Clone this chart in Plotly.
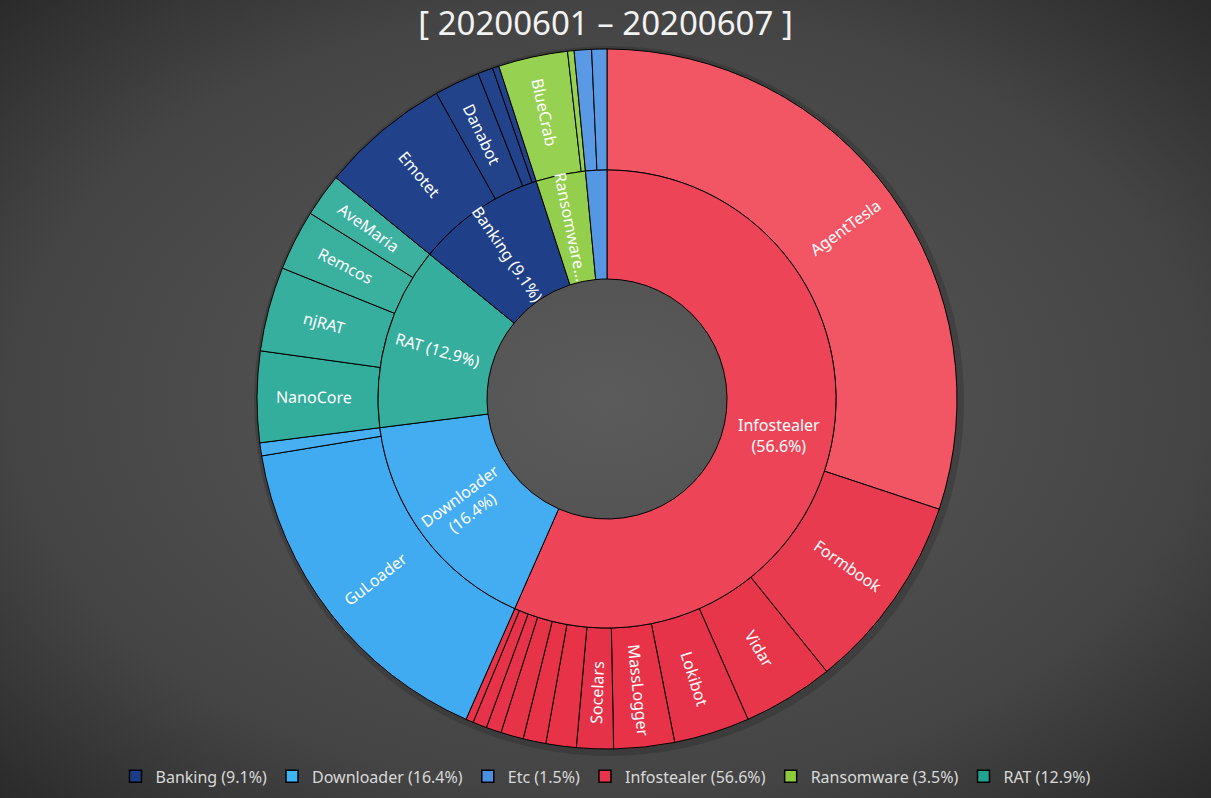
import base64
import math
import plotly.graph_objects as go

TITLE = "[ 20200601 – 20200607 ]"

# inner ring: malware categories (share in %)
categories = ["Infostealer", "Downloader", "RAT", "Banking", "Ransomware", "Etc"]
category_share = [56.6, 16.4, 12.9, 9.1, 3.5, 1.5]
category_text = ["Infostealer<br>(56.6%)", "Downloader<br>(16.4%)", "RAT (12.9%)",
                 "Banking (9.1%)", "Ransomware...", ""]

# outer ring: families, in the same clockwise order ("" = too small to be labelled)
family_names = [
    "AgentTesla", "Formbook", "Vidar", "Lokibot", "MassLogger", "Socelars", "", "", "", "", "", "",
    "GuLoader", "",
    "NanoCore", "njRAT", "Remcos", "AveMaria",
    "Emotet", "Danabot", "", "",
    "BlueCrab", "",
    "", "",
]
family_category = (["Infostealer"] * 12 + ["Downloader"] * 2 + ["RAT"] * 4
                   + ["Banking"] * 4 + ["Ransomware"] * 2 + ["Etc"] * 2)
family_share = [
    30.1, 9.1, 4.2, 3.5, 2.8, 1.7, 1.4, 1.05, 1.05, 0.7, 0.65, 0.35,
    15.8, 0.6,
    4.2, 3.9, 2.8, 2.0,
    6.0, 2.1, 0.7, 0.3,
    3.2, 0.3,
    0.8, 0.7,
]

# (top, bottom) shades - the original has a soft vertical gradient
shades = {
    "Infostealer": ("#f6636f", "#e52d44"),
    "Downloader": ("#5cbcf8", "#37a5ee"),
    "RAT": ("#47b6a5", "#1ea493"),
    "Banking": ("#24458c", "#143480"),
    "Ransomware": ("#98d253", "#84c33a"),
    "Etc": ("#5c9ce6", "#4488dd"),
}
legend_colors = {
    "Banking": "#1b3c87", "Downloader": "#3fb3f6", "Etc": "#4b8fe0",
    "Infostealer": "#e8334a", "Ransomware": "#8ccc3c", "RAT": "#21a393",
}


def mix(c1, c2, t):
    a = [int(c1[i:i + 2], 16) for i in (1, 3, 5)]
    b = [int(c2[i:i + 2], 16) for i in (1, 3, 5)]
    return "#%02x%02x%02x" % tuple(round(x + (y - x) * t) for x, y in zip(a, b))


def mid_angles(shares):
    out, acc = [], 0.0
    total = sum(shares)
    for s in shares:
        out.append((acc + s / 2) / total * 360)
        acc += s
    return out


def ring_colors(cats, shares, rmid):
    out = []
    for c, a in zip(cats, mid_angles(shares)):
        ypos = rmid * math.cos(math.radians(a))  # -1 bottom .. 1 top
        top, bottom = shades[c]
        out.append(mix(bottom, top, (ypos + 1) / 2))
    return out


outer_labels = []
counter = {}
for n, c in zip(family_names, family_category):
    if n:
        outer_labels.append(n)
    else:
        counter[c] = counter.get(c, 0) + 1
        outer_labels.append(f"{c} #{counter[c]}")

# geometry in px (margins are zero, axes are 1 unit = 1 px, origin = pie centre)
W, H = 1211, 798
CX, CY = 607, 399
R_OUT, R_MID, R_IN = 350, 229, 120

fig = go.Figure()

# soft shadow under the rings
fig.add_trace(go.Pie(
    labels=["shadow"], values=[1], sort=False,
    marker=dict(colors=["rgba(0,0,0,0.15)"], line=dict(width=0)),
    hole=(R_MID + 6) / (R_OUT + 5), textinfo="none", hoverinfo="skip",
    domain=dict(x=[0.0058, 1], y=[0.0526, 0.9424]),
    showlegend=False,
))

fig.add_trace(go.Pie(
    labels=outer_labels, values=family_share,
    sort=False, direction="clockwise", rotation=0,
    hole=R_MID / R_OUT,
    marker=dict(colors=ring_colors(family_category, family_share, (R_MID + R_OUT) / 2 / R_OUT),
                line=dict(color="#000000", width=1)),
    textinfo="none",
    hovertemplate="%{label}: %{value}%<extra></extra>",
    domain=dict(x=[0.0025, 1], y=[0.5 - R_OUT / H, 0.5 + R_OUT / H]),
    showlegend=False,
))

fig.add_trace(go.Pie(
    labels=categories, values=category_share,
    sort=False, direction="clockwise", rotation=0,
    hole=R_IN / R_MID,
    marker=dict(colors=ring_colors(categories, category_share, (R_IN + R_MID) / 2 / R_OUT),
                line=dict(color="#000000", width=1)),
    textinfo="none",
    hovertemplate="%{label}: %{value}%<extra></extra>",
    domain=dict(x=[0.0025, 1], y=[0.5 - R_MID / H, 0.5 + R_MID / H]),
    showlegend=False,
))


# slice labels: at mid angle, turned along the radius (Excel style)
def radial_labels(texts, shares, radius):
    anns = []
    for t, a, s in zip(texts, mid_angles(shares), shares):
        if not t:
            continue
        rad = math.radians(a)
        if s > 50:
            angle = 0
        elif a < 180:
            angle = a - 90
        else:
            angle = a - 270
        anns.append(dict(
            x=radius * math.sin(rad), y=radius * math.cos(rad), xref="x", yref="y",
            text=t, textangle=angle, showarrow=False,
            font=dict(family="Noto Sans", size=16, color="#ffffff"),
        ))
    return anns


annotations = radial_labels(family_names, family_share, 293) + \
    radial_labels(category_text, category_share, 176)

# legend entries (alphabetical like the original)
for c in sorted(categories, key=str.lower):
    s = category_share[categories.index(c)]
    fig.add_trace(go.Scatter(
        x=[None], y=[None], mode="markers", name=f"{c} ({s}%)",
        marker=dict(symbol="square", size=12, color=legend_colors[c],
                    line=dict(color="#000000", width=1.5)),
    ))

bg_svg = (
    f'<svg xmlns="http://www.w3.org/2000/svg" width="{W}" height="{H}">'
    '<defs><radialGradient id="g" cx="50%" cy="50%" r="71%">'
    '<stop offset="0" stop-color="#5b5b5b"/><stop offset="0.7" stop-color="#444444"/>'
    '<stop offset="1" stop-color="#2a2a2a"/></radialGradient></defs>'
    f'<rect width="{W}" height="{H}" fill="url(#g)"/></svg>'
)
bg_src = "data:image/svg+xml;base64," + base64.b64encode(bg_svg.encode()).decode()

fig.update_layout(
    width=W, height=H,
    margin=dict(l=0, r=0, t=0, b=0),
    paper_bgcolor="#3d3d3d", plot_bgcolor="rgba(0,0,0,0)",
    font=dict(family="Noto Sans", color="#d9d9d9"),
    title=dict(text=TITLE, x=0.5, xanchor="center", y=0.97, yanchor="middle",
               font=dict(family="Noto Sans", size=33, color="#f2f2f2")),
    xaxis=dict(visible=False, range=[-CX, W - CX], fixedrange=True),
    yaxis=dict(visible=False, range=[CY - H, CY], fixedrange=True),
    annotations=annotations,
    legend=dict(orientation="h", x=0.5, xanchor="center", y=0.027, yanchor="middle",
                font=dict(size=16, color="#d9d9d9"), itemwidth=30,
                bgcolor="rgba(0,0,0,0)"),
    images=[dict(source=bg_src, xref="paper", yref="paper", x=0, y=1,
                 sizex=1, sizey=1, sizing="stretch", layer="below")],
)

fig.write_html("out.html", config={"displayModeBar": False},
               post_script="document.body.style.margin='0';document.body.style.overflow='hidden';")
